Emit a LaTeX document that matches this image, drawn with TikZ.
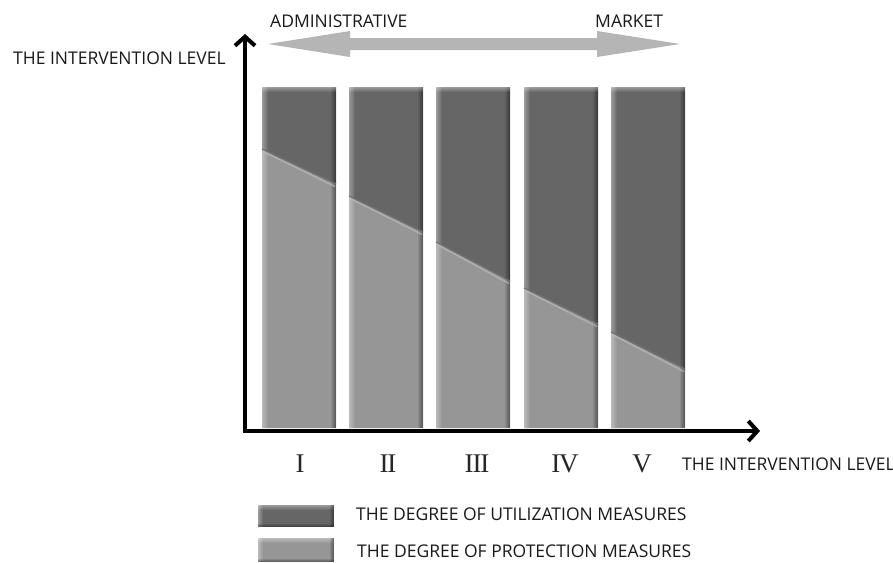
\documentclass[tikz,border=0pt]{standalone}
\usepackage{fontspec}
\usetikzlibrary{arrows.meta,fadings}
\newfontfamily\labelfont{Open Sans}
\newfontfamily\numfont{Liberation Serif}
\definecolor{utilgray}{HTML}{666666}
\definecolor{protgray}{HTML}{969696}
\definecolor{flowgray}{HTML}{B5B5B5}
\tikzset{
  lbl/.style={font=\labelfont\fontsize{17.5}{20}\selectfont, inner sep=0pt, text=black!90},
  numeral/.style={font=\numfont\fontsize{27}{29}\selectfont, inner sep=0pt, text=black!85},
  axis/.style={line width=4pt, line cap=round, line join=round,
    arrows={-{Straight Barb[length=9pt,width=20pt,line width=4pt]}}},
  utilpart/.style={fill=utilgray},
  protpart/.style={fill=protgray},
  hilite/.style={fill=white, fill opacity=0.35},
  shadow/.style={fill=black, fill opacity=0.45},
}
% tight spacing between roman numeral strokes
\newcommand{\rk}{\kern-1.2pt}
% one column of the chart: #1 left x, #2 split at left edge, #3 split at right edge
\newcommand{\drawcolumn}[3]{%
  \fill[utilpart] (#1,87) -- (#1+74,87) -- (#1+74,#3) -- (#1,#2) -- cycle;
  \fill[protpart] (#1,#2) -- (#1+74,#3) -- (#1+74,428) -- (#1,428) -- cycle;
  \fill[hilite, path fading=east] (#1,87) rectangle (#1+6,428);
  \fill[shadow, path fading=west] (#1+68,87) rectangle (#1+74,428);
  \fill[hilite, path fading=south] (#1,87) rectangle (#1+74,92);
  \draw[black!55, line width=1.2pt] (#1,#2-1) -- (#1+74,#3-1);
  \draw[white!75!black, opacity=0.6, line width=1.5pt] (#1+1,#2+1.5) -- (#1+73,#3+1.5);
}
% legend swatch: #1 top y, #2 bottom y, #3 colour
\newcommand{\drawswatch}[3]{%
  \fill[#3] (258,#1) rectangle (334,#2);
  \fill[hilite, path fading=south] (258,#1) rectangle (334,#1+5);
  \fill[hilite, path fading=east] (258,#1) rectangle (263,#2);
  \fill[shadow, path fading=west] (329,#1) rectangle (334,#2);
  \fill[shadow, path fading=north] (258,#2-4) rectangle (334,#2);
}
\begin{document}
\begin{tikzpicture}[x=1pt,y=-1pt]
\useasboundingbox (0,0) rectangle (893,562);

% two-way shift between administrative and market regulation
\fill[flowgray] (268,44) -- (350,31) -- (350,38) -- (597,38) -- (597,31)
  -- (680,44) -- (597,57) -- (597,50) -- (350,50) -- (350,57) -- cycle;
\node[lbl, anchor=west] (admin) at (270,21) {ADMINISTRATIVE};
\node[lbl, anchor=west] (market) at (595,21) {MARKET};

% columns
\drawcolumn{262}{150}{185}
\drawcolumn{349}{197}{233}
\drawcolumn{436}{243}{282}
\drawcolumn{524}{289}{325}
\drawcolumn{611}{333}{370}

% axes
\coordinate (origin) at (245,431);
\coordinate (ytip) at (245,34);
\coordinate (xtip) at (760,431);
\draw[axis] (origin) -- (ytip);
\draw[axis] (origin) -- (xtip);
\fill[black] (243,429) rectangle (247,433);

\node[lbl, anchor=west] (ylabel) at (13,58) {THE INTERVENTION LEVEL};
\node[lbl, anchor=west] (xlabel) at (682,464) {THE INTERVENTION LEVEL};

% column numerals
\node[numeral] (n1) at (300,463.5) {I};
\node[numeral] (n2) at (388,463.5) {I\rk I};
\node[numeral] (n3) at (477,463.5) {I\rk I\rk I};
\node[numeral] (n4) at (565,463.5) {I\rk V};
\node[numeral] (n5) at (642,463.5) {V};

% legend
\drawswatch{505}{527}{utilgray}
\drawswatch{538}{562}{protgray}
\node[lbl, anchor=west] (legutil) at (356,514) {THE DEGREE OF UTILIZATION MEASURES};
\node[lbl, anchor=west] (legprot) at (357,551) {THE DEGREE OF PROTECTION MEASURES};
\end{tikzpicture}
\end{document}
